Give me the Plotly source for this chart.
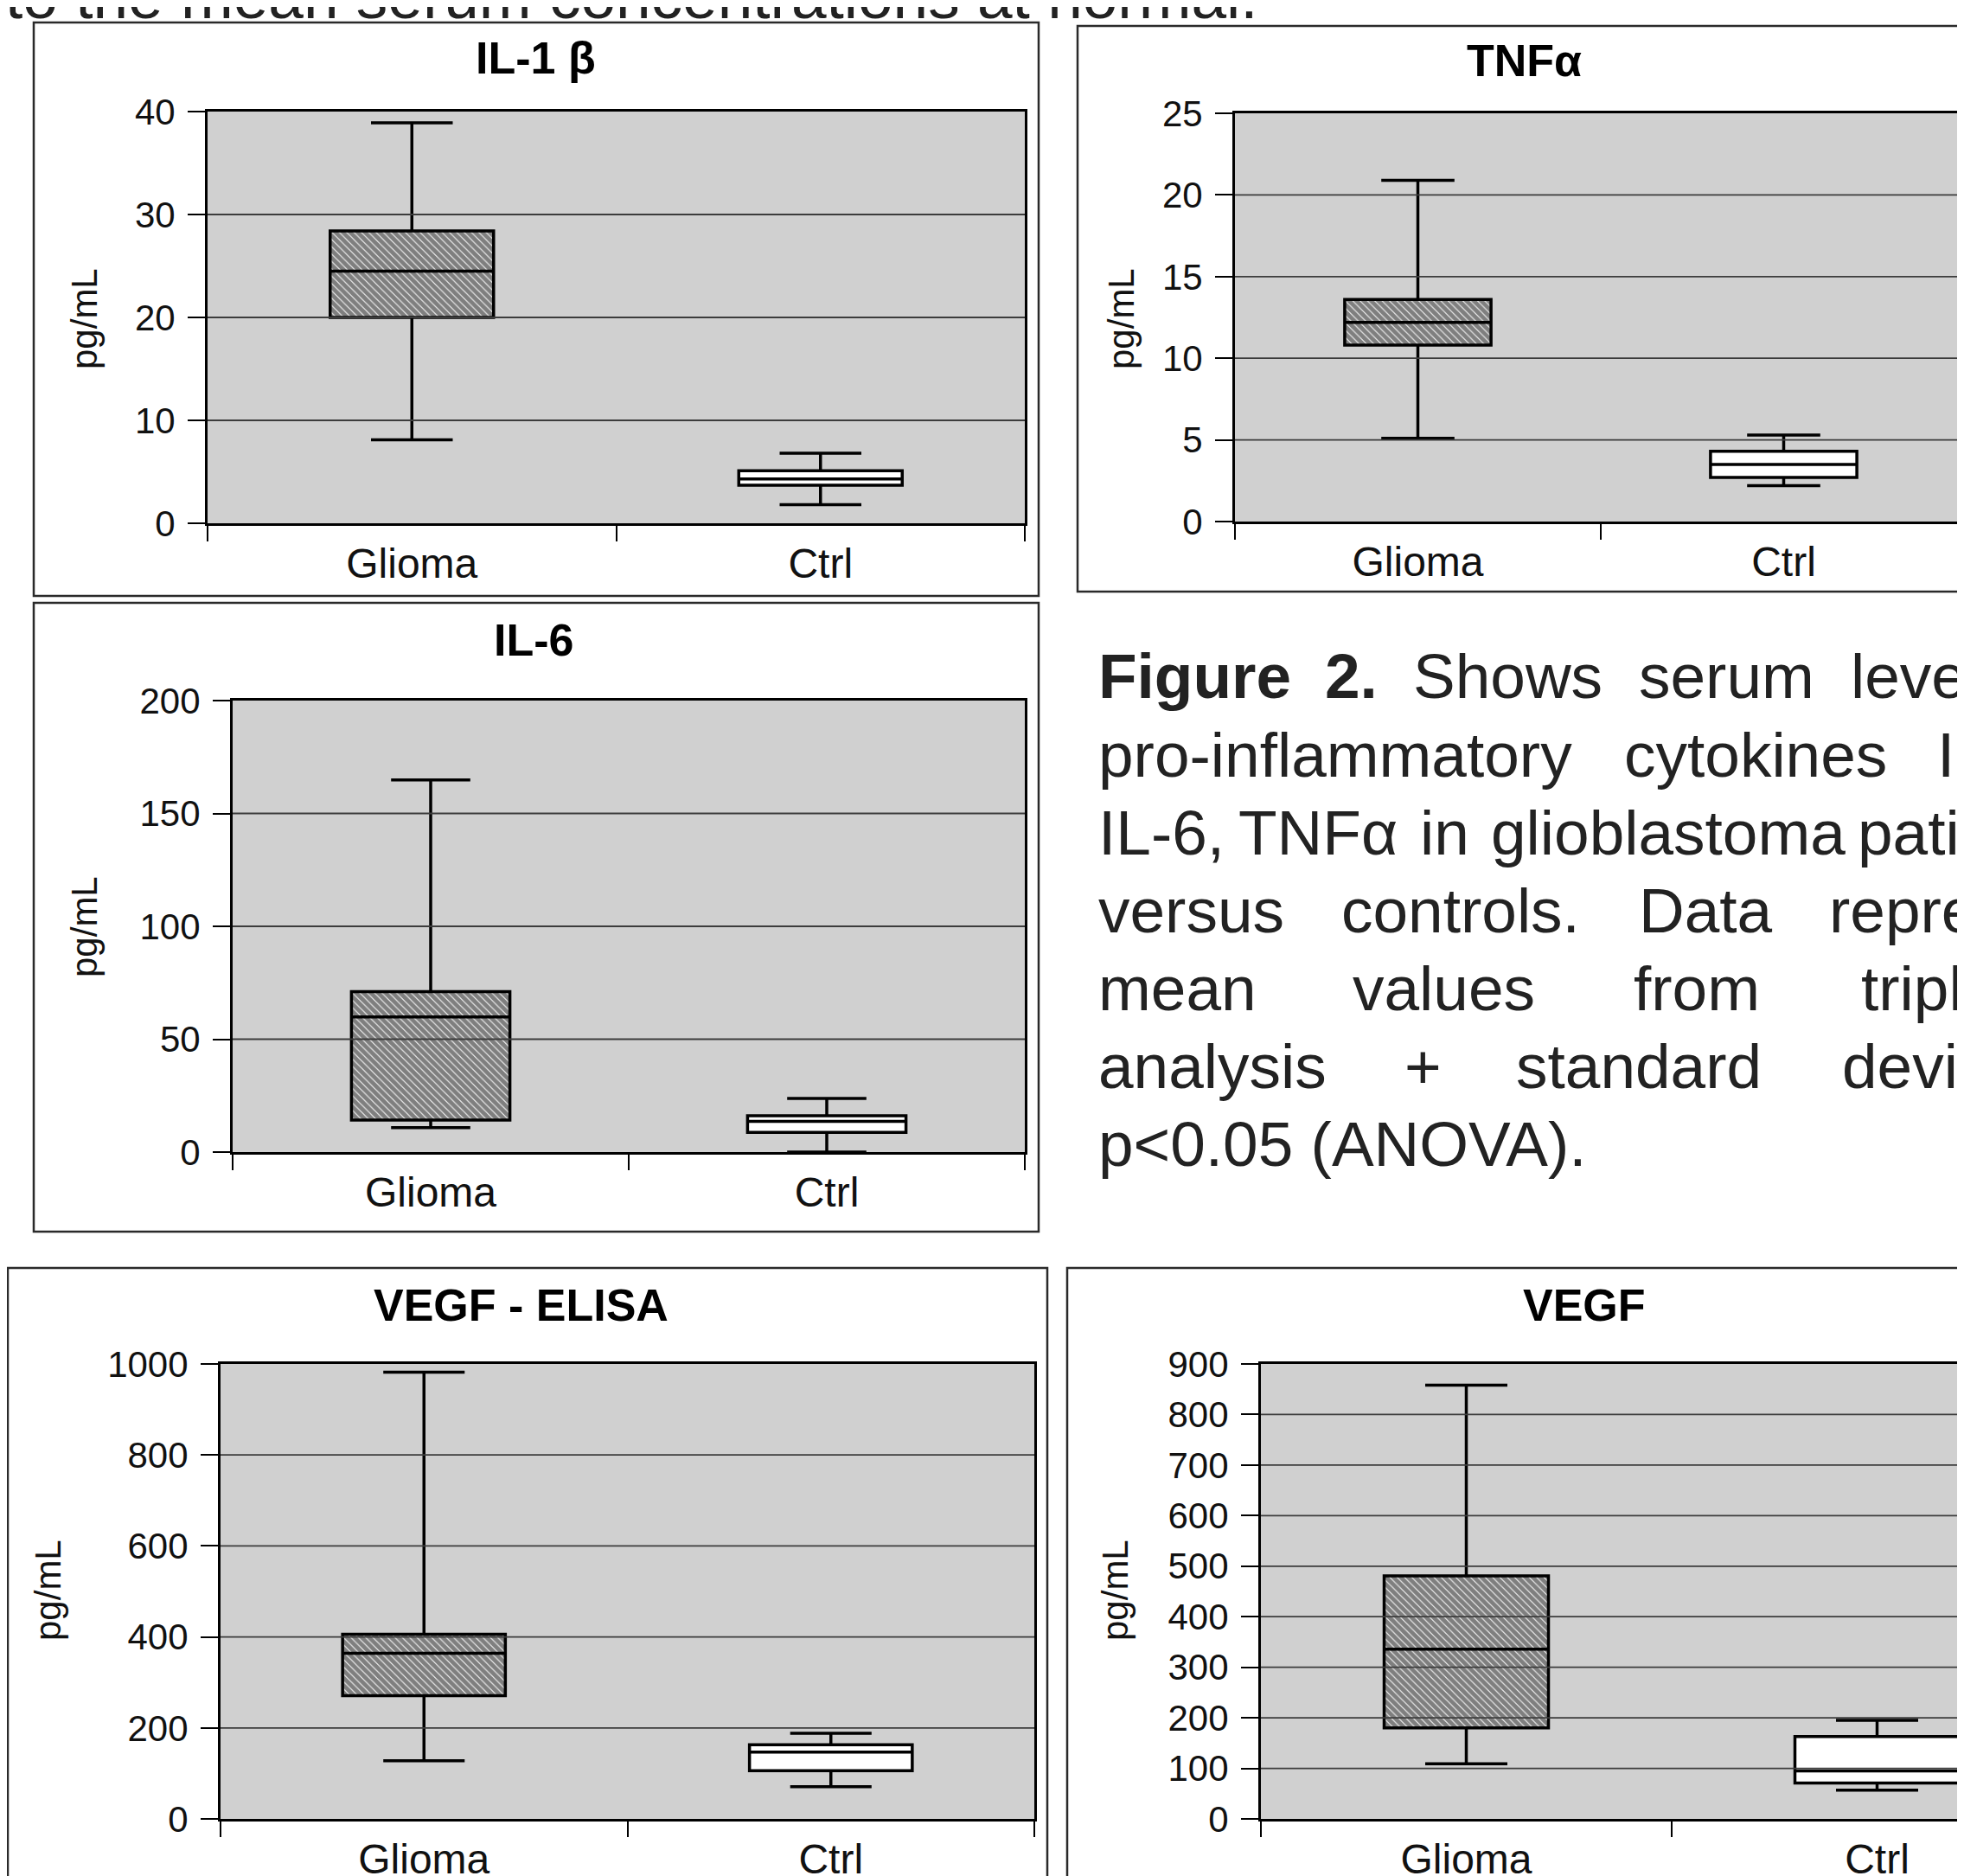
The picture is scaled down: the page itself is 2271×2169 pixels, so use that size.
import plotly.graph_objects as go

W, H = 2271, 2169          # browser window
OFF = 8                    # default page (body) margin of the html page
FW, FH = W - OFF, H - OFF  # figure size so that it exactly fills the window


def px(x):
    return (x - OFF) / FW


def py(y):
    return 1 - (y - OFF) / FH


# ---------------- data ----------------
categories = ["Glioma", "Ctrl"]
panel_titles = ["IL-1 β", "TNFα", "IL-6", "VEGF - ELISA", "VEGF"]
y_label = "pg/mL"

# five-number summaries, order = [Glioma, Ctrl]
il1b_low = [8.1, 1.8]
il1b_q1 = [20.0, 3.7]
il1b_med = [24.5, 4.3]
il1b_q3 = [28.4, 5.1]
il1b_high = [38.9, 6.8]

tnfa_low = [5.1, 2.2]
tnfa_q1 = [10.8, 2.7]
tnfa_med = [12.2, 3.5]
tnfa_q3 = [13.6, 4.3]
tnfa_high = [20.9, 5.3]

il6_low = [10.8, 0.0]
il6_q1 = [14.2, 8.7]
il6_med = [59.9, 13.6]
il6_q3 = [71.1, 16.1]
il6_high = [164.8, 23.8]

vegf_elisa_low = [128, 71]
vegf_elisa_q1 = [271, 106]
vegf_elisa_med = [364, 147]
vegf_elisa_q3 = [406, 163]
vegf_elisa_high = [982, 188]

vegf_low = [109, 57]
vegf_q1 = [180, 71]
vegf_med = [336, 95]
vegf_q3 = [481, 163]
vegf_high = [858, 195]

y_max = [40, 25, 200, 1000, 900]
y_step = [10, 5, 50, 200, 100]

stats = [
    (il1b_low, il1b_q1, il1b_med, il1b_q3, il1b_high),
    (tnfa_low, tnfa_q1, tnfa_med, tnfa_q3, tnfa_high),
    (il6_low, il6_q1, il6_med, il6_q3, il6_high),
    (vegf_elisa_low, vegf_elisa_q1, vegf_elisa_med, vegf_elisa_q3, vegf_elisa_high),
    (vegf_low, vegf_q1, vegf_med, vegf_q3, vegf_high),
]

caption_lines = [
    [("<b>Figure</b>", 1268), ("<b>2.</b>", 1530), ("Shows", 1632), ("serum", 1893), ("levels", 2138)],
    [("pro-inflammatory", 1268), ("cytokines", 1876), ("IL-1β,", 2238)],
    [("IL-6,", 1268), ("TNFα", 1430), ("in", 1640), ("glioblastoma", 1722), ("patients", 2146)],
    [("versus", 1268), ("controls.", 1549), ("Data", 1893), ("represent", 2113)],
    [("mean", 1268), ("values", 1562), ("from", 1887), ("triplicate", 2150)],
    [("analysis", 1268), ("+", 1622), ("standard", 1751), ("deviation", 2128)],
    [("p<0.05 (ANOVA).", 1268)],
]
caption_baselines = [808, 899, 989, 1079, 1169, 1259, 1349]
top_text = "to the mean serum concentrations at normal."

# ---------------- layout geometry (window pixels) ----------------
# plot area: left, right, top, bottom ; frame: left, top, right, bottom
panels = [
    dict(plot=(240, 1185, 129, 605), xr=(-0.5, 1.5), frame=(39, 26, 1201, 689),
         title=(620, 67), ylab=(97, 369), cut=False),
    dict(plot=(1428, 2271, 131, 603), xr=(-0.5, -0.5 + (2271 - 1428) / 423.0), frame=(1246, 30, 2290, 684),
         title=(1762, 70), ylab=(1296, 369), cut=True),
    dict(plot=(269, 1185, 810, 1332), xr=(-0.5, 1.5), frame=(39, 697, 1201, 1424),
         title=(617, 740), ylab=(97, 1072), cut=False),
    dict(plot=(255, 1196, 1577, 2103), xr=(-0.5, 1.5), frame=(9, 1466, 1211, 2190),
         title=(602, 1509), ylab=(55, 1839), cut=False),
    dict(plot=(1458, 2271, 1577, 2103), xr=(-0.5, -0.5 + (2271 - 1458) / 475.0), frame=(1234, 1466, 2290, 2190),
         title=(1832, 1509), ylab=(1289, 1839), cut=True),
]

FONT = "Liberation Sans, Arial, sans-serif"
PLOT_BG = "#d0d0d0"
GRID = "#3c3c3c"

fig = go.Figure()
shapes = []
annotations = []

for i, (p, st) in enumerate(zip(panels, stats)):
    n = i + 1
    sfx = "" if n == 1 else str(n)
    xref, yref = "x" + sfx, "y" + sfx
    low, q1, med, q3, high = st
    L, R, T, B = p["plot"]

    # hatched fill for the Glioma box
    fig.add_trace(go.Bar(
        x=[0], base=[q1[0]], y=[q3[0] - q1[0]], width=[0.4],
        xaxis=xref, yaxis=yref, showlegend=False, hoverinfo="skip",
        marker=dict(color="white", line=dict(width=0),
                    pattern=dict(shape="\\", fgcolor="black", bgcolor="white", size=6, solidity=0.85)),
    ))
    for j, cat in enumerate(categories):
        fig.add_trace(go.Box(
            x=[j], q1=[q1[j]], median=[med[j]], q3=[q3[j]],
            lowerfence=[low[j]], upperfence=[high[j]],
            orientation="v", width=0.4, whiskerwidth=0.5,
            fillcolor="rgba(0,0,0,0)" if j == 0 else "white",
            line=dict(color="black", width=3.5),
            boxpoints=False, showlegend=False, name=cat,
            xaxis=xref, yaxis=yref,
        ))

    fig.layout["xaxis" + sfx] = dict(
        domain=[px(L), min(px(R), 1.0)], anchor=yref, range=list(p["xr"]), automargin=False,
        tickmode="array", tickvals=[0, 1], ticktext=categories, ticks="",
        ticklabelstandoff=2,
        tickfont=dict(family=FONT, size=48, color="#111"),
        showline=True, linecolor="black", linewidth=3, mirror=True,
        showgrid=False, zeroline=False, fixedrange=True,
        minor=dict(tickmode="array", tickvals=[-0.5, 0.5, 1.5], ticks="outside",
                   ticklen=18, tickwidth=2, tickcolor="black", showgrid=False),
    )
    tv = list(range(0, y_max[i] + 1, y_step[i]))
    fig.layout["yaxis" + sfx] = dict(
        domain=[py(B), py(T)], anchor=xref, range=[0, y_max[i]], automargin=False,
        tickmode="array", tickvals=tv, ticks="outside", ticklen=20, tickwidth=2, tickcolor="black",
        ticklabelstandoff=6,
        tickfont=dict(family=FONT, size=42, color="#111"),
        showline=True, linecolor="black", linewidth=3, mirror=not p["cut"],
        showgrid=False, zeroline=False, fixedrange=True,
    )
    # horizontal gridlines drawn above the boxes
    for t in tv[1:-1]:
        shapes.append(dict(type="line", xref=xref + " domain", yref=yref, x0=0, x1=1, y0=t, y1=t,
                           line=dict(color=GRID, width=1.8), layer="above"))
    # chart frame
    fl, ft, fr, fb = p["frame"]
    shapes.append(dict(type="rect", xref="paper", yref="paper",
                       x0=px(fl), x1=px(fr), y0=py(fb), y1=py(ft),
                       line=dict(color="#2a2a2a", width=2.5), layer="below"))
    # titles
    tx, ty = p["title"]
    annotations.append(dict(text="<b>%s</b>" % panel_titles[i], x=px(tx), y=py(ty),
                            xref="paper", yref="paper", xanchor="center", yanchor="middle",
                            showarrow=False, font=dict(family=FONT, size=52, color="black")))
    lx, ly = p["ylab"]
    annotations.append(dict(text=y_label, x=px(lx), y=py(ly), textangle=-90,
                            xref="paper", yref="paper", xanchor="center", yanchor="middle",
                            showarrow=False, font=dict(family=FONT, size=42, color="#111")))

# caption text
CAP = 73
for words, base in zip(caption_lines, caption_baselines):
    for w, x in words:
        annotations.append(dict(text=w, x=px(x), y=py(base - 0.36 * CAP),
                                xref="paper", yref="paper", xanchor="left", yanchor="middle",
                                showarrow=False, font=dict(family=FONT, size=CAP, color="#222")))
annotations.append(dict(text=top_text, x=px(4), y=py(22 - 0.36 * CAP),
                        xref="paper", yref="paper", xanchor="left", yanchor="middle",
                        showarrow=False, font=dict(family=FONT, size=CAP, color="#222")))

fig.update_layout(
    width=FW, height=FH, margin=dict(l=0, r=0, t=0, b=0, autoexpand=False),
    paper_bgcolor="white", plot_bgcolor=PLOT_BG,
    showlegend=False, barmode="overlay", boxmode="overlay",
    shapes=shapes, annotations=annotations,
)

fig.write_html("out.html")
